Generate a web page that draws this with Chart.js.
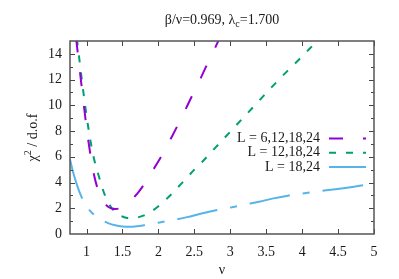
<!DOCTYPE html>
<html>
<head>
<meta charset="utf-8">
<script src="https://cdn.jsdelivr.net/npm/chart.js@4/dist/chart.umd.min.js"></script>
<style>
  html, body { margin: 0; padding: 0; background: #fff; }
</style>
</head>
<body>
<canvas id="chi2" width="399" height="279"></canvas>
<script>
// ----- valeurs -----
const nuL6 = [0.855, 0.9, 0.95, 1.0, 1.05, 1.1, 1.15, 1.2, 1.25, 1.3, 1.35, 1.4, 1.45, 1.5, 1.6, 1.7, 1.8, 1.9, 2.0, 2.1, 2.2, 2.3, 2.4, 2.5, 2.6, 2.7, 2.8, 2.9];
const chiL6 = [15.2, 13.0, 10.6, 8.3, 6.3, 4.7, 3.6, 2.85, 2.4, 2.12, 1.98, 1.94, 1.98, 2.12, 2.55, 3.1, 3.85, 4.75, 5.65, 6.65, 7.7, 8.8, 9.95, 11.1, 12.25, 13.45, 14.6, 15.8];

const nuL12 = [0.865, 0.9, 0.95, 1.0, 1.05, 1.1, 1.15, 1.2, 1.25, 1.3, 1.35, 1.4, 1.45, 1.5, 1.55, 1.6, 1.65, 1.7, 1.8, 1.9, 2.0, 2.1, 2.2, 2.3, 2.4, 2.5, 2.6, 2.7, 2.8, 2.9, 3.0, 3.2, 3.4, 3.6, 3.8, 4.0, 4.2, 4.3];
const chiL12 = [15.2, 13.6, 11.3, 9.2, 7.4, 5.95, 4.9, 3.95, 3.1, 2.5, 2.02, 1.7, 1.5, 1.36, 1.27, 1.23, 1.23, 1.27, 1.45, 1.75, 2.15, 2.65, 3.2, 3.8, 4.4, 5.0, 5.55, 6.15, 6.75, 7.35, 7.95, 9.15, 10.35, 11.55, 12.7, 13.8, 14.95, 15.5];

const nuL18 = [0.77, 0.8, 0.85, 0.9, 0.95, 1.0, 1.05, 1.1, 1.15, 1.2, 1.3, 1.4, 1.5, 1.6, 1.7, 1.8, 1.9, 2.0, 2.2, 2.4, 2.6, 2.8, 3.0, 3.2, 3.4, 3.6, 3.8, 4.0, 4.2, 4.4, 4.6, 4.8, 5.0];
const chiL18 = [5.8, 5.1, 4.1, 3.3, 2.65, 2.15, 1.8, 1.52, 1.3, 1.12, 0.85, 0.68, 0.59, 0.56, 0.6, 0.68, 0.78, 0.88, 1.08, 1.31, 1.6, 1.85, 2.05, 2.28, 2.5, 2.77, 2.98, 3.15, 3.3, 3.44, 3.58, 3.75, 3.95];

const seriesLabels = ['L = 6,12,18,24', 'L = 12,18,24', 'L = 18,24'];
const xTicks = [1, 1.5, 2, 2.5, 3, 3.5, 4, 4.5, 5];
const yTicks = [0, 2, 4, 6, 8, 10, 12, 14];

const serif = "'Liberation Serif', 'DejaVu Serif', serif";
Chart.defaults.font.family = serif;

function pts(xs, ys) {
  return xs.map((v, i) => ({ x: v, y: ys[i] }));
}

// cadre, graduations vers l'intérieur, titres et légende façon gnuplot
const decorPlugin = {
  id: 'decor',
  afterDraw(chart) {
    const { ctx, chartArea: a, scales: { x, y } } = chart;
    ctx.save();

    // graduations
    ctx.strokeStyle = '#444';
    ctx.lineWidth = 1;
    ctx.beginPath();
    xTicks.forEach(v => {
      const px = Math.round(x.getPixelForValue(v)) + 0.5;
      ctx.moveTo(px, a.bottom); ctx.lineTo(px, a.bottom - 5);
      ctx.moveTo(px, a.top); ctx.lineTo(px, a.top + 5);
    });
    for (let v = 1; v < 15; v++) {
      const len = v % 2 === 0 ? 5 : 3;
      const py = Math.round(y.getPixelForValue(v)) + 0.5;
      ctx.moveTo(a.left, py); ctx.lineTo(a.left + len, py);
      ctx.moveTo(a.right, py); ctx.lineTo(a.right - len, py);
    }
    ctx.stroke();

    // cadre
    ctx.strokeStyle = '#555';
    ctx.lineWidth = 1.5;
    ctx.strokeRect(a.left, a.top, a.right - a.left, a.bottom - a.top);

    ctx.fillStyle = '#1a1a1a';
    ctx.textBaseline = 'middle';

    // titre avec indice
    const cx = (a.left + a.right) / 2;
    const big = '14px ' + serif, small = '10px ' + serif;
    const p1 = 'β/ν=0.969, λ', p2 = 'c', p3 = '=1.700';
    ctx.font = big; const w1 = ctx.measureText(p1).width, w3 = ctx.measureText(p3).width;
    ctx.font = small; const w2 = ctx.measureText(p2).width;
    let tx = cx - (w1 + w2 + w3) / 2;
    ctx.textAlign = 'left';
    ctx.font = big; ctx.fillText(p1, tx, 20); tx += w1;
    ctx.font = small; ctx.fillText(p2, tx, 24); tx += w2;
    ctx.font = big; ctx.fillText(p3, tx, 20);

    // titre axe x
    ctx.textAlign = 'center';
    ctx.font = big;
    ctx.fillText('ν', cx, 270);

    // titre axe y (exposant)
    ctx.save();
    ctx.translate(33, (a.top + a.bottom) / 2);
    ctx.rotate(-Math.PI / 2);
    const q1 = 'χ', q2 = '2', q3 = ' / d.o.f';
    ctx.font = big; const v1 = ctx.measureText(q1).width, v3 = ctx.measureText(q3).width;
    ctx.font = small; const v2 = ctx.measureText(q2).width;
    let ty = -(v1 + v2 + v3) / 2;
    ctx.textAlign = 'left';
    ctx.font = big; ctx.fillText(q1, ty, 0); ty += v1;
    ctx.font = small; ctx.fillText(q2, ty, -5); ty += v2;
    ctx.font = big; ctx.fillText(q3, ty, 0);
    ctx.restore();

    // légende
    chart.data.datasets.forEach((ds, i) => {
      const ly = 138.5 + i * 14.2;
      ctx.fillStyle = '#1a1a1a';
      ctx.font = big;
      ctx.textAlign = 'right';
      ctx.fillText(ds.label, 320, ly);
      ctx.strokeStyle = ds.borderColor;
      ctx.lineWidth = ds.borderWidth;
      ctx.setLineDash(ds.borderDash);
      ctx.beginPath();
      ctx.moveTo(329, ly); ctx.lineTo(366, ly);
      ctx.stroke();
      ctx.setLineDash([]);
    });

    ctx.restore();
  }
};

const common = { showLine: true, pointRadius: 0, borderWidth: 2, cubicInterpolationMode: 'monotone', fill: false };

new Chart(document.getElementById('chi2'), {
  type: 'scatter',
  data: {
    datasets: [
      { ...common, label: seriesLabels[0], data: pts(nuL6, chiL6), borderColor: '#9400d3', borderDash: [14, 20] },
      { ...common, label: seriesLabels[1], data: pts(nuL12, chiL12), borderColor: '#009e73', borderDash: [7, 10] },
      { ...common, label: seriesLabels[2], data: pts(nuL18, chiL18), borderColor: '#56b4e9', borderDash: [41, 13, 7, 13] }
    ]
  },
  options: {
    responsive: false,
    animation: false,
    events: [],
    layout: { padding: { top: 41, right: 25, left: 0, bottom: 0 } },
    plugins: { legend: { display: false }, tooltip: { enabled: false }, title: { display: false } },
    scales: {
      x: {
        type: 'linear', min: 0.77, max: 5,
        afterBuildTicks: s => { s.ticks = xTicks.map(v => ({ value: v })); },
        afterFit: s => { s.height = 45; },
        grid: { display: false, drawTicks: false },
        border: { display: false },
        ticks: { padding: 10, color: '#1a1a1a', font: { size: 14 }, maxRotation: 0, callback: v => String(v) }
      },
      y: {
        type: 'linear', min: 0, max: 15,
        afterBuildTicks: s => { s.ticks = yTicks.map(v => ({ value: v })); },
        afterFit: s => { s.width = 70; },
        grid: { display: false, drawTicks: false },
        border: { display: false },
        ticks: { padding: 8, color: '#1a1a1a', font: { size: 14 }, callback: v => String(v) }
      }
    }
  },
  plugins: [decorPlugin]
});
</script>
</body>
</html>
